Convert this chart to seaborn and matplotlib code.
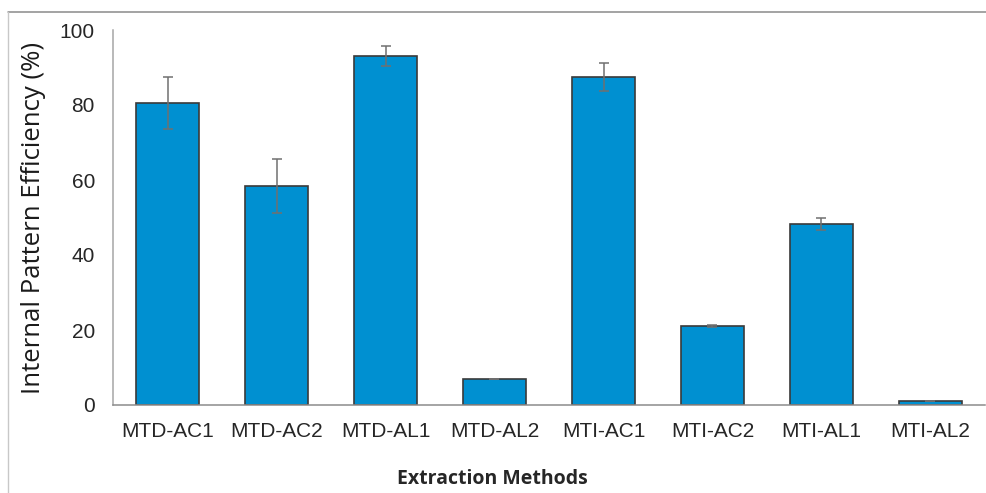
import numpy as np
import pandas as pd
import matplotlib
matplotlib.use("Agg")
import matplotlib.pyplot as plt
from matplotlib.lines import Line2D
from matplotlib.ticker import FixedLocator
import seaborn as sns

# Dados
metodos = ["MTD-AC1", "MTD-AC2", "MTD-AL1", "MTD-AL2",
           "MTI-AC1", "MTI-AC2", "MTI-AL1", "MTI-AL2"]
eficiencia = [80.5, 58.5, 93.1, 6.9, 87.5, 21.1, 48.3, 1.1]
desvio = [7.0, 7.2, 2.7, 0.0, 3.7, 0.2, 1.5, 0.0]

df = pd.DataFrame({"metodo": metodos, "eficiencia": eficiencia, "desvio": desvio})

sns.set_style("white")
plt.rcParams["font.family"] = ["Liberation Sans", "DejaVu Sans"]

fig = plt.figure(figsize=(9.87, 4.93), dpi=100)
ax = fig.add_axes([113 / 987, 1 - 405 / 493, 872 / 987, 375 / 493])

sns.barplot(data=df, x="metodo", y="eficiencia", color="#0090d1",
            saturation=1, edgecolor="#3a3a3a", linewidth=1.2,
            width=0.57, errorbar=None, ax=ax)

# Barras de erro
ax.errorbar(np.arange(len(df)), df["eficiencia"], yerr=df["desvio"],
            fmt="none", ecolor="#707070", elinewidth=1.1, capsize=3.5,
            capthick=1.1)

ax.set_xlim(-0.5, len(df) - 0.5)
ax.set_ylim(0, 100)
ax.set_yticks([0, 20, 40, 60, 80, 100])

for s in ["top", "right"]:
    ax.spines[s].set_visible(False)
ax.spines["left"].set_color("#a6a6a6")
ax.spines["bottom"].set_color("#8c8c8c")
ax.spines["left"].set_linewidth(1.1)
ax.spines["bottom"].set_linewidth(1.1)

# Marcas entre categorias
ax.xaxis.set_minor_locator(FixedLocator(np.arange(-0.5, len(df), 1.0)))
ax.tick_params(axis="x", which="major", length=0, pad=12,
               labelsize=15, labelcolor="#262626")
ax.tick_params(axis="x", which="minor", length=13, direction="inout",
               color="#8c8c8c", width=1.0)
ax.tick_params(axis="y", length=0, pad=13, labelsize=15, labelcolor="#262626")

ax.set_xlabel("Extraction Methods", fontsize=14, fontweight="bold",
              family=["Open Sans", "DejaVu Sans"], va="center", ha="center")
ax.xaxis.set_label_coords(0.4346, -0.197)
ax.set_ylabel("Internal Pattern Efficiency (%)", fontsize=18.5,
              family=["Open Sans", "DejaVu Sans"], color="#1a1a1a",
              va="center", ha="center")
ax.yaxis.set_label_coords(-0.0917, 0.5)

# Moldura externa
fig.add_artist(Line2D([8 / 987, 1.0], [1 - 12 / 493, 1 - 12 / 493],
                      transform=fig.transFigure, color="#8a8a8a", lw=1.1))
fig.add_artist(Line2D([8 / 987, 8 / 987], [0, 1 - 12 / 493],
                      transform=fig.transFigure, color="#c8c8c8", lw=1.0))

fig.savefig("out.png", dpi=100)
